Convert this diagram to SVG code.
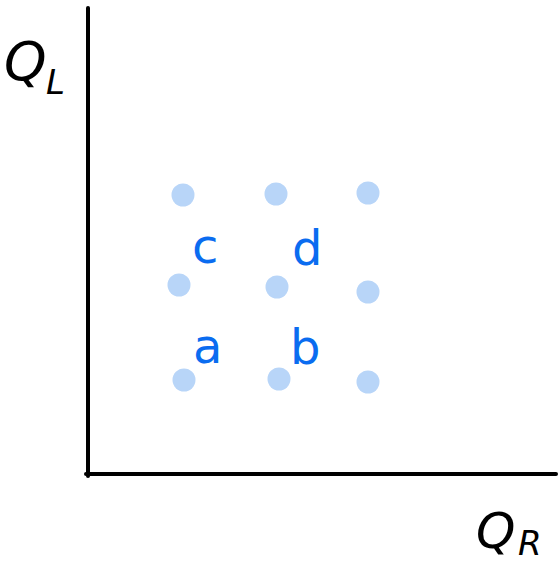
<svg xmlns="http://www.w3.org/2000/svg" width="558" height="565" viewBox="0 0 558 565">
<style>
.axis{stroke:#000;stroke-width:4;fill:none;stroke-linecap:round}
.dot{fill:#b8d5f8}
.lbl{font-family:"DejaVu Sans",sans-serif;font-size:48px;fill:#0a6cf0}
.ax{font-family:"DejaVu Sans",sans-serif;fill:#000;font-style:italic}
</style>
<rect width="558" height="565" fill="#fff"/>
<g id="axes">
<line class="axis" x1="88" y1="8" x2="88" y2="476"/>
<line class="axis" x1="86" y1="474" x2="556" y2="474"/>
</g>
<g id="label-QL">
<text class="ax" x="4" y="80" font-size="54">Q</text>
<text class="ax" x="46" y="94" font-size="34">L</text>
</g>
<g id="label-QR">
<text class="ax" x="476" y="548" font-size="50">Q</text>
<text class="ax" x="518" y="555" font-size="34">R</text>
</g>
<g id="dots">
<circle class="dot" cx="183" cy="195" r="11.5"/>
<circle class="dot" cx="276" cy="194" r="11.5"/>
<circle class="dot" cx="368" cy="193" r="11.5"/>
<circle class="dot" cx="179" cy="285" r="11.5"/>
<circle class="dot" cx="277" cy="287" r="11.5"/>
<circle class="dot" cx="368" cy="292" r="11.5"/>
<circle class="dot" cx="184" cy="380" r="11.5"/>
<circle class="dot" cx="279" cy="379" r="11.5"/>
<circle class="dot" cx="368" cy="382" r="11.5"/>
</g>
<g id="letters">
<text class="lbl" x="192" y="263">c</text>
<text class="lbl" x="292" y="265">d</text>
<text class="lbl" x="193" y="363">a</text>
<text class="lbl" x="290" y="364">b</text>
</g>
</svg>
